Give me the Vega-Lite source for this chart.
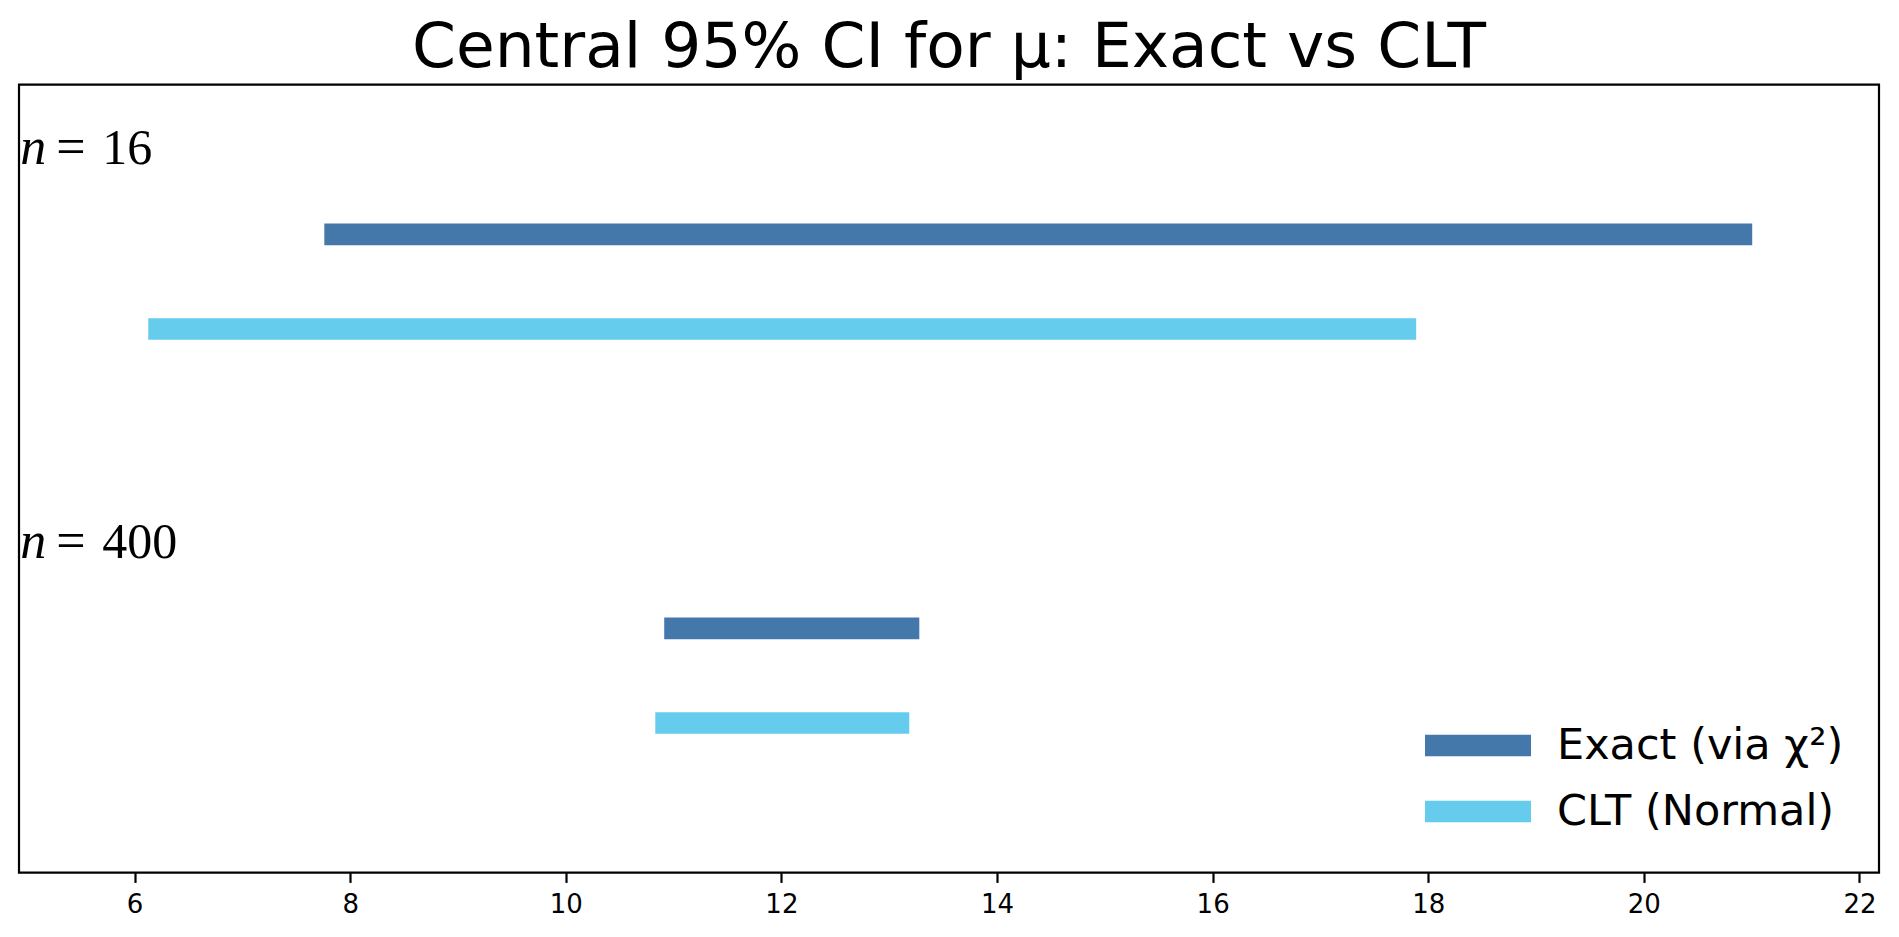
{
  "$schema": "https://vega.github.io/schema/vega-lite/v6.json",
  "width": 1860,
  "height": 788,
  "autosize": {"type": "none"},
  "padding": {"left": 19, "top": 84.7, "right": 20, "bottom": 64.3},
  "background": "white",
  "config": {"view": {"stroke": "black", "strokeWidth": 2.2}, "font": "DejaVu Sans"},
  "title": {"text": "Central 95% CI for μ: Exact vs CLT", "font": "DejaVu Sans", "fontSize": 63, "fontWeight": "normal", "color": "black", "offset": 4.5, "anchor": "middle"},
  "datasets": {
    "intervals": [
      {"n": "16", "method": "Exact (via χ²)", "lo": 7.760, "hi": 21.005, "y": 1.12},
      {"n": "16", "method": "CLT (Normal)", "lo": 6.127, "hi": 17.888, "y": 0.88},
      {"n": "400", "method": "Exact (via χ²)", "lo": 10.913, "hi": 13.279, "y": 0.12},
      {"n": "400", "method": "CLT (Normal)", "lo": 10.830, "hi": 13.186, "y": -0.12}
    ],
    "labels": [
      {"n": "16", "x": 4.94, "y": 1.3},
      {"n": "400", "x": 4.94, "y": 0.3}
    ]
  },
  "layer": [
    {
      "data": {"name": "intervals"},
      "mark": {"type": "rule", "strokeWidth": 21.6, "strokeCap": "butt"},
      "encoding": {
        "x": {"field": "lo", "type": "quantitative", "title": null,
          "scale": {"domain": [4.928, 22.181], "nice": false, "zero": false},
          "axis": {"values": [6, 8, 10, 12, 14, 16, 18, 20, 22], "format": "d", "title": null, "grid": false, "domain": false, "ticks": true, "tickColor": "black", "tickWidth": 2.2, "tickSize": 9.7, "labelFont": "DejaVu Sans", "labelFontSize": 26, "labelColor": "black", "labelBaseline": "alphabetic", "labelPadding": 30, "labelFlush": false, "labelOverlap": false}},
        "x2": {"field": "hi"},
        "y": {"field": "y", "type": "quantitative", "scale": {"domain": [-0.5, 1.5], "nice": false, "zero": false}, "axis": null},
        "color": {"field": "method", "type": "nominal",
          "scale": {"domain": ["Exact (via χ²)", "CLT (Normal)"], "range": ["#4477AA", "#66CCEE"]},
          "legend": {"title": null, "orient": "none", "legendX": 1395, "legendY": 627.8, "symbolType": "stroke", "symbolSize": 11236, "symbolStrokeWidth": 21.6, "labelFont": "DejaVu Sans", "labelFontSize": 43, "labelColor": "black", "labelOffset": 15, "clipHeight": 66, "rowPadding": 0, "padding": 0, "labelLimit": 0}}
      }
    },
    {
      "data": {"name": "labels"},
      "mark": {"type": "text", "font": "Liberation Serif", "fontStyle": "italic", "fontSize": 52, "align": "left", "baseline": "alphabetic", "color": "black"},
      "encoding": {
        "x": {"field": "x", "type": "quantitative", "title": null},
        "y": {"field": "y", "type": "quantitative"},
        "text": {"value": "n"}
      }
    },
    {
      "data": {"name": "labels"},
      "mark": {"type": "text", "font": "Liberation Serif", "fontSize": 52, "align": "left", "baseline": "alphabetic", "color": "black", "dx": 36},
      "encoding": {
        "x": {"field": "x", "type": "quantitative", "title": null},
        "y": {"field": "y", "type": "quantitative"},
        "text": {"value": "="}
      }
    },
    {
      "data": {"name": "labels"},
      "mark": {"type": "text", "font": "Liberation Serif", "fontSize": 50, "align": "left", "baseline": "alphabetic", "color": "black", "dx": 82},
      "encoding": {
        "x": {"field": "x", "type": "quantitative", "title": null},
        "y": {"field": "y", "type": "quantitative"},
        "text": {"field": "n"}
      }
    }
  ]
}
